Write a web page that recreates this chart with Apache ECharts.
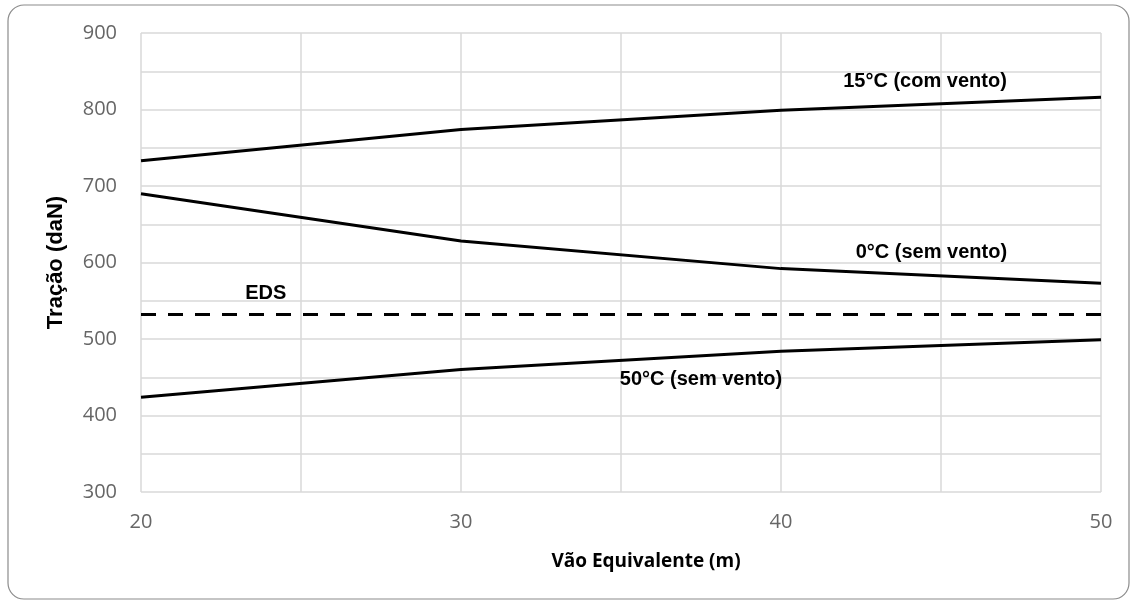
<!DOCTYPE html>
<html>
<head>
<meta charset="utf-8">
<script src="https://cdn.jsdelivr.net/npm/echarts@6/dist/echarts.min.js"></script>
<style>
  html, body { margin: 0; padding: 0; background: #ffffff; }
  #chart { width: 1134px; height: 605px; }
</style>
</head>
<body>
<div id="chart"></div>
<script>
// Vão equivalente (m)
const spans = [20, 30, 40, 50];
// Tração (daN) por condição
const t15ComVento = [733, 774, 799, 816];
const t0SemVento = [690, 628, 592, 573];
const t50SemVento = [424, 460, 484, 499];
const eds = 532;

const curveNames = ['15°C (com vento)', '0°C (sem vento)', '50°C (sem vento)'];

const pairs = vals => spans.map((x, i) => [x, vals[i]]);

const labelStyle = {
  fontFamily: '"Liberation Sans", Arial, sans-serif',
  fontWeight: 'bold',
  fontSize: 20,
  color: '#000000'
};

// text-only annotation placed in data coordinates
function tag(text, coord) {
  return {
    silent: true,
    symbol: 'circle',
    symbolSize: 1,
    itemStyle: { color: 'rgba(0,0,0,0)' },
    label: Object.assign({ show: true, position: 'inside', formatter: text }, labelStyle),
    data: [{ coord: coord }]
  };
}

const lineBase = {
  type: 'line',
  symbol: 'none',
  silent: true,
  animation: false,
  lineStyle: { color: '#000000', width: 3 }
};

const tickFont = {
  fontFamily: '"Open Sans", sans-serif',
  fontSize: 20,
  color: '#666666'
};

const chart = echarts.init(document.getElementById('chart'), null, { renderer: 'canvas' });

chart.setOption({
  backgroundColor: '#ffffff',
  animation: false,
  graphic: [{
    type: 'rect',
    shape: { x: 8, y: 5, width: 1121, height: 594, r: 16 },
    style: { fill: 'none', stroke: '#8c8c8c', lineWidth: 1.2 },
    silent: true,
    z: -1
  }],
  grid: { left: 141, right: 33, top: 33, bottom: 113, containLabel: false },
  xAxis: {
    type: 'value',
    min: 20,
    max: 50,
    interval: 10,
    name: 'Vão Equivalente (m)',
    nameLocation: 'middle',
    nameGap: 60,
    nameTextStyle: {
      fontFamily: '"Open Sans", sans-serif',
      fontWeight: 700,
      fontSize: 19,
      color: '#000000',
      padding: [0, 0, 0, 50]
    },
    axisLine: { show: false },
    axisTick: { show: false },
    axisLabel: Object.assign({ margin: 20 }, tickFont),
    splitLine: { show: true, lineStyle: { color: '#d9d9d9', width: 1.5 } },
    minorTick: { show: false, splitNumber: 2 },
    minorSplitLine: { show: true, lineStyle: { color: '#d9d9d9', width: 1.5 } }
  },
  yAxis: {
    type: 'value',
    min: 300,
    max: 900,
    interval: 100,
    name: 'Tração (daN)',
    nameLocation: 'middle',
    nameGap: 74,
    nameTextStyle: {
      fontFamily: '"Liberation Sans", Arial, sans-serif',
      fontWeight: 'bold',
      fontSize: 22,
      color: '#000000'
    },
    axisLine: { show: false },
    axisTick: { show: false },
    axisLabel: Object.assign({ margin: 24 }, tickFont),
    splitLine: { show: true, lineStyle: { color: '#d9d9d9', width: 1.5 } },
    minorTick: { show: false, splitNumber: 2 },
    minorSplitLine: { show: true, lineStyle: { color: '#d9d9d9', width: 1.5 } }
  },
  series: [
    Object.assign({}, lineBase, {
      name: curveNames[0],
      data: pairs(t15ComVento),
      markPoint: tag(curveNames[0], [44.5, 836])
    }),
    Object.assign({}, lineBase, {
      name: curveNames[1],
      data: pairs(t0SemVento),
      markPoint: tag(curveNames[1], [44.7, 613])
    }),
    Object.assign({}, lineBase, {
      name: curveNames[2],
      data: pairs(t50SemVento),
      markPoint: tag(curveNames[2], [37.5, 447])
    }),
    Object.assign({}, lineBase, {
      name: 'EDS',
      data: [[spans[0], eds], [spans[spans.length - 1], eds]],
      lineStyle: { color: '#000000', width: 3, type: [15, 12] },
      markPoint: tag('EDS', [23.9, 559])
    })
  ]
});
</script>
</body>
</html>
